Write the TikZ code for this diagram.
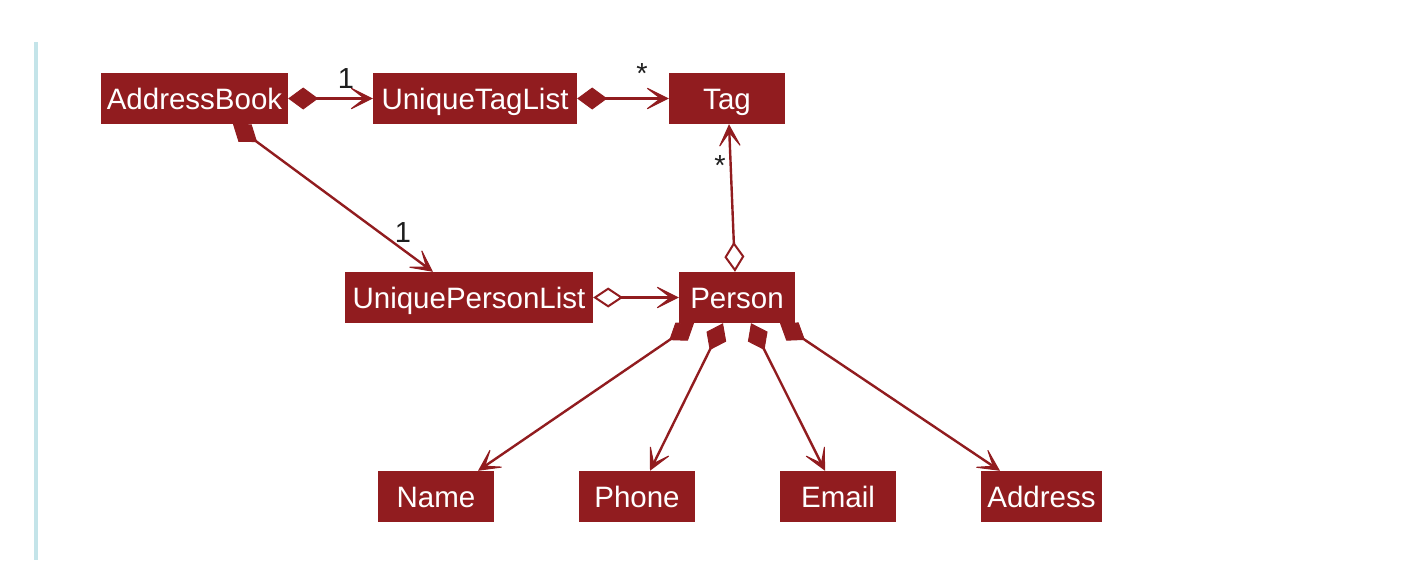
\documentclass[tikz,border=0pt]{standalone}
\usepackage{fontspec}
\setmainfont{Liberation Sans}
\usetikzlibrary{arrows.meta}
\definecolor{boxred}{HTML}{911C1F}
\definecolor{sidebar}{HTML}{C4E4E9}
\definecolor{lbl}{HTML}{1E1E1E}
\pgfdeclarelayer{links}
\pgfsetlayers{links,main}
\begin{document}
\begin{tikzpicture}[x=1pt,y=-1pt,
  cls/.style={fill=boxred, text=white, minimum height=51pt, inner sep=0pt,
              text height=21pt, text depth=0pt,
              font=\fontsize{29.5}{31}\selectfont},
  link/.style={draw=boxred, line width=2.4pt},
  headtip/.tip={Stealth[length=26pt,width=26pt,inset=17pt,line width=1pt,fill=boxred]},
  comp/.style={link, {Diamond[length=30pt,width=22pt,fill=boxred,line width=1pt]}-headtip},
  aggr/.style={link, {Diamond[open,length=30pt,width=20pt,fill=white,line width=2pt]}-headtip},
  mult/.style={text=lbl, inner sep=0pt, font=\fontsize{29}{31}\selectfont}]
\useasboundingbox (0,0) rectangle (1422,560);

% page rule on the left
\fill[sidebar] (33.5,42) rectangle (37.5,560);

% classes
\node[cls, minimum width=187pt] (ab)  at (194.5,98.5) {AddressBook};
\node[cls, minimum width=204pt] (utl) at (475,98.5)   {UniqueTagList};
\node[cls, minimum width=116pt] (tag) at (727,98.5)   {Tag};
\node[cls, minimum width=248pt] (upl) at (469,297.5)  {UniquePersonList};
\node[cls, minimum width=116pt] (per) at (737,297.5)  {Person};
\node[cls, minimum width=116pt] (nam) at (436,496.5)  {Name};
\node[cls, minimum width=116pt] (pho) at (637,496.5)  {Phone};
\node[cls, minimum width=116pt] (ema) at (838,496.5)  {Email};
\node[cls, minimum width=121pt] (adr) at (1041.5,496.5) {Address};

% associations
\begin{pgfonlayer}{links}
\draw[comp] (ab.east) -- (utl.west);
\draw[comp] (utl.east) -- (tag.west);
\draw[comp] ([xshift=38.5pt]ab.south) -- ([xshift=-36pt]upl.north);
\draw[aggr] (upl.east) -- (per.west);
\draw[aggr] ([xshift=-2pt]per.north) -- ([xshift=2pt]tag.south);
\draw[comp] ([xshift=-43pt]per.south) -- ([xshift=42pt]nam.north);
\draw[comp] ([xshift=-14pt]per.south) -- ([xshift=13pt]pho.north);
\draw[comp] ([xshift=14pt]per.south)  -- ([xshift=-13pt]ema.north);
\draw[comp] ([xshift=43pt]per.south)  -- ([xshift=-41.5pt]adr.north);
\end{pgfonlayer}

% multiplicities
\node[mult] (m1) at (346,79)  {1};
\node[mult] (m2) at (642,74)  {*};
\node[mult] (m3) at (720,166) {*};
\node[mult] (m4) at (403,233) {1};
\end{tikzpicture}
\end{document}
